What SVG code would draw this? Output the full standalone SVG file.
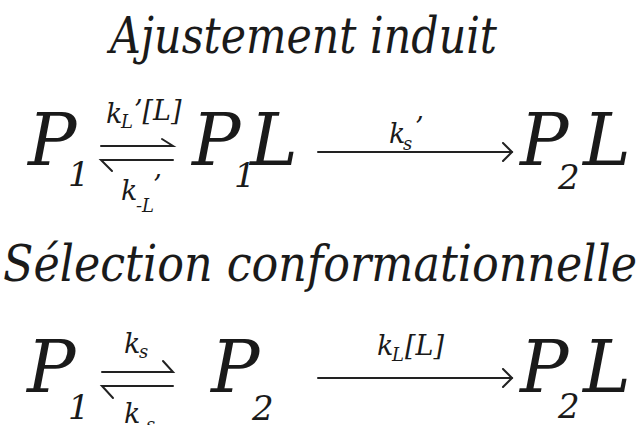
<svg xmlns="http://www.w3.org/2000/svg" width="642" height="425" viewBox="0 0 642 425">
<style>
.title{font-size:51px}
.big{font-size:72px}
.sub{font-size:34px}
.lab{font-size:27px}
.lsub{font-size:18px}
.ln{stroke:#222;stroke-width:2;fill:none;stroke-linecap:round}
</style>
<defs>
<marker id="chev" markerWidth="14" markerHeight="20" refX="11" refY="10" orient="auto" markerUnits="userSpaceOnUse">
<path d="M2,1 L11,10 L2,19" class="ln" stroke-width="1.8"/>
</marker>
</defs>
<rect width="642" height="425" fill="#fff"/>
<g font-family="'DejaVu Serif', serif" font-style="italic" fill="#1a1a1a">
<g id="title1"><text class="title" x="110" y="53" textLength="387" lengthAdjust="spacingAndGlyphs">Ajustement induit</text></g>
<g id="title2"><text class="title" x="3" y="281" textLength="634" lengthAdjust="spacingAndGlyphs">Sélection conformationnelle</text></g>

<g id="r1-P1"><text class="big" x="28" y="165">P</text><text class="sub" x="68" y="186">1</text></g>
<g id="r1-P1L"><text class="big" x="192" y="165">P</text><text class="sub" x="234" y="187">1</text><text class="big" x="250" y="165">L</text></g>
<g id="r1-P2L"><text class="big" x="520" y="165">P</text><text class="sub" x="558" y="189">2</text><text class="big" x="583" y="165">L</text></g>

<g id="r2-P1"><text class="big" x="27" y="392">P</text><text class="sub" x="68" y="419">1</text></g>
<g id="r2-P2"><text class="big" x="211" y="392">P</text><text class="sub" x="252" y="420">2</text></g>
<g id="r2-P2L"><text class="big" x="520" y="392">P</text><text class="sub" x="558" y="418">2</text><text class="big" x="583" y="392">L</text></g>

<g id="connectors">
<g id="r1-eq">
<path class="ln" d="M101,146 H173 L162,139"/>
<path class="ln" d="M173,160 H101 L112,171"/>
<text class="lab" x="106" y="123">k</text><text class="lsub" x="121" y="128">L</text><text class="lab" x="134" y="120">’[L]</text>
<text class="lab" x="121" y="200">k</text><text class="lsub" x="136" y="212">-L</text><text class="lab" x="153" y="195">’</text>
</g>
<g id="r1-arrow">
<path class="ln" d="M318,152 H512" marker-end="url(#chev)"/>
<text class="lab" x="389" y="143">k</text><text class="lsub" x="403" y="150">s</text><text class="lab" x="415" y="137">’</text>
</g>
<g id="r2-eq">
<path class="ln" d="M102,372 H173 L163,361"/>
<path class="ln" d="M173,386 H102 L113,398"/>
<text class="lab" x="124" y="353">k</text><text class="lsub" x="139" y="358">s</text>
<text class="lab" x="124" y="423">k</text><text class="lsub" x="140" y="431">-s</text>
</g>
<g id="r2-arrow">
<path class="ln" d="M318,378 H512" marker-end="url(#chev)"/>
<text class="lab" x="377" y="355">k</text><text class="lsub" x="392" y="361">L</text><text class="lab" x="405" y="355">[L]</text>
</g>
</g>
</g>
</svg>
